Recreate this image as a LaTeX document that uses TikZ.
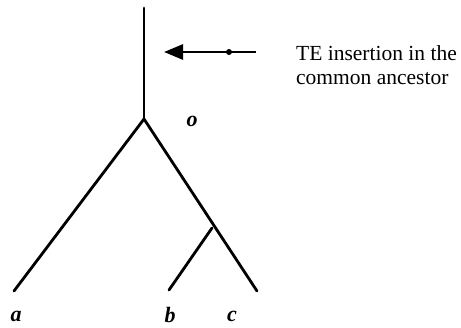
\documentclass[tikz,border=0pt]{standalone}
\usepackage{fontspec}
\setmainfont{Liberation Serif}
\usetikzlibrary{arrows.meta}
\begin{document}
\begin{tikzpicture}[x=1pt,y=-1pt,
  branch/.style={line width=2.8pt,line cap=round},
  leaflabel/.style={font=\fontsize{22}{22}\selectfont\bfseries\itshape,inner sep=0pt},
  note/.style={font=\fontsize{21.5}{24}\selectfont,align=left,inner sep=0pt,anchor=base west}]
\useasboundingbox (0,0) rectangle (461,327);
\coordinate (top) at (144,8);
\coordinate (root) at (144,119);
\coordinate (a) at (14,291);
\coordinate (sub) at (212,228);
\coordinate (b) at (169,290);
\coordinate (c) at (257,291);
\draw[branch] (top) -- (root);
\draw[branch] (root) -- (a);
\draw[branch] (root) -- (c);
\draw[branch] (sub) -- (b);
\coordinate (arrstart) at (256,52);
\coordinate (arrend) at (164,52);
\draw[line width=2.8pt,-{Triangle[length=19pt,width=15pt]}] (arrstart) -- (arrend);
\coordinate (mk) at (229,52);
\fill (mk) circle (3pt);
\node[note] (te) at (296,84) {TE insertion in the\\common ancestor};
\node[leaflabel] (lo) at (192,121) {o};
\node[leaflabel] (la) at (16,316) {a};
\node[leaflabel] (lb) at (170,315) {b};
\node[leaflabel] (lc) at (232,316) {c};
\end{tikzpicture}
\end{document}
